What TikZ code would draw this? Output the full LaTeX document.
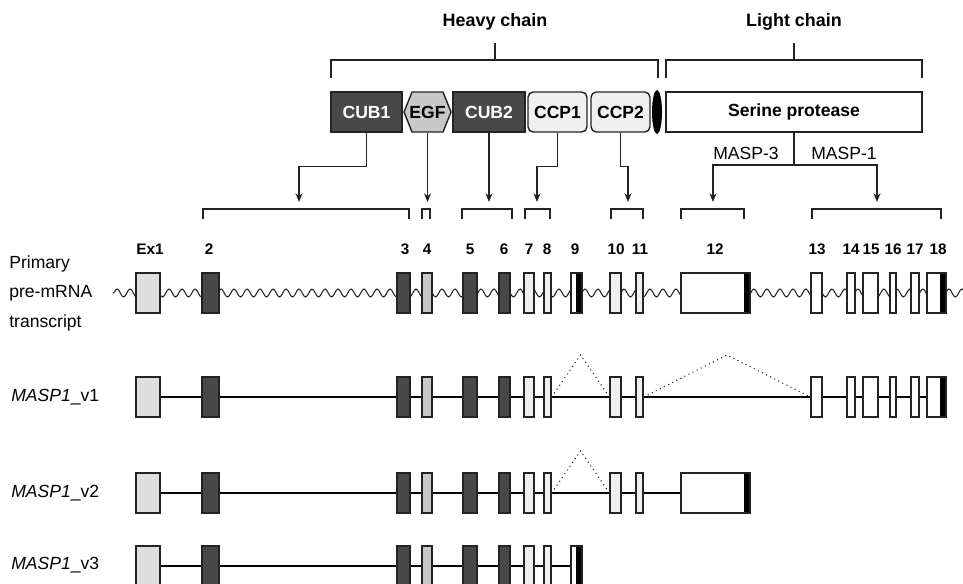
\documentclass[tikz,border=0pt]{standalone}
\usepackage{fontspec}
\setmainfont{Liberation Sans}
\usetikzlibrary{arrows.meta, calc, backgrounds, shapes.geometric, decorations.pathmorphing}
\definecolor{darkexon}{RGB}{72,72,72}
\definecolor{firstexon}{RGB}{221,221,221}
\definecolor{egfgray}{RGB}{200,200,200}
\definecolor{ccpgray}{RGB}{240,240,240}
\definecolor{edge}{RGB}{35,35,35}
\tikzset{
  dom/.style={draw=edge, line width=0.8pt, inner sep=0pt, minimum height=0.8cm,
              font=\fontsize{10}{12}\selectfont\bfseries},
  exon/.style={draw=edge, line width=0.7pt, inner sep=0pt, minimum height=0.8cm},
  stopexon/.style={fill=white, path picture={\fill[black]
      ([xshift=-0.12cm]path picture bounding box.north east) rectangle (path picture bounding box.south east);}},
  arrow/.style={-{Stealth[length=5pt, width=4pt]}, line width=0.7pt, edge},
  bracket/.style={line width=0.75pt, edge},
  intron/.style={line width=1.2pt, black},
  splice/.style={dotted, line width=0.6pt, edge},
  wave/.style={line width=0.6pt, edge, decorate,
               decoration={snake, segment length=0.26cm, amplitude=0.08cm}},
  chain/.style={font=\fontsize{10.2}{12}\selectfont\bfseries},
  num/.style={font=\fontsize{8.7}{10}\selectfont\bfseries},
  lbl/.style={font=\fontsize{10}{12}\selectfont, anchor=west, inner sep=0pt},
}
\begin{document}
\begin{tikzpicture}[x=0.02cm, y=-0.02cm]
  \useasboundingbox (0,0) rectangle (963,583);
  \clip (0,0) rectangle (963,583);

  \node[chain] (heavy) at (495,22) {Heavy chain};
  \node[chain] (light) at (794,22) {Light chain};
  \draw[bracket] (331,78) |- (658,60) -- (658,78);
  \draw[bracket] (495,43) -- (495,60);
  \draw[bracket] (666,78) |- (922,60) -- (922,78);
  \draw[bracket] (794,43) -- (794,60);

  \node[dom, fill=darkexon, text=white, minimum width=1.42cm] (cub1) at (366.5,112) {CUB1};
  \draw[line width=0.8pt, draw=edge, fill=egfgray]
      (404,112) -- (412,92) -- (443,92) -- (451,112) -- (443,132) -- (412,132) -- cycle;
  \node[dom, draw=none, minimum width=0.94cm] (egf) at (427.5,112) {EGF};
  \node[dom, fill=darkexon, text=white, minimum width=1.44cm] (cub2) at (489,112) {CUB2};
  \node[dom, fill=ccpgray, rounded corners=3pt, minimum width=1.18cm] (ccp1) at (557.5,112) {CCP1};
  \node[dom, fill=ccpgray, rounded corners=3pt, minimum width=1.18cm] (ccp2) at (620.5,112) {CCP2};
  \node[ellipse, fill=black, inner sep=0pt, minimum width=0.2cm, minimum height=0.88cm] (link) at (657,112) {};
  \node[dom, fill=white, minimum width=5.12cm] (sp) at (794,112) {Serine protease};

  \coordinate (t2) at (299,202);
  \coordinate (t4) at (427.5,202);
  \coordinate (t5) at (489,202);
  \coordinate (t7) at (537,202);
  \coordinate (t10) at (628,202);
  \coordinate (t12) at (713,202);
  \coordinate (t13) at (877,202);
  \coordinate (split) at (794,165);
  \draw[arrow] (cub1.south) -- ++(0,34) -| (t2);
  \draw[arrow] (egf.south) -- (t4);
  \draw[arrow] (cub2.south) -- (t5);
  \draw[arrow] (ccp1.south) -- ++(0,34) -| (t7);
  \draw[arrow] (ccp2.south) -- ++(0,34) -| (t10);
  \draw[line width=0.7pt, edge] (sp.south) -- (split);
  \draw[arrow] (split) -| (t12);
  \draw[arrow] (split) -| (t13);
  \node[font=\fontsize{10}{12}\selectfont] (masp3) at (746,153) {MASP-3};
  \node[font=\fontsize{10}{12}\selectfont] (masp1) at (844,153) {MASP-1};

  \foreach \a/\b in {203/409, 422/430, 462/512, 525/550, 611/643, 681/744, 812/941}
    \draw[bracket] (\a,219) |- (\b,209) -- (\b,219);

  \foreach \t/\x in {Ex1/150, 2/209, 3/405, 4/427, 5/470, 6/504, 7/529, 8/547, 9/575,
                     10/616, 11/640, 12/715, 13/817, 14/851, 15/871, 16/893, 17/915, 18/938}
    \node[num] (n\t) at (\x,249) {\t};

  \draw[wave] (113,293) -- (980,293);

  \foreach \r/\y in {p/293, va/397, vb/493, vc/566}
    \foreach \n/\a/\b/\c in {1/136/160/firstexon, 2/202/219/darkexon, 3/397/410/darkexon,
                             4/422/432/egfgray, 5/463/477/darkexon, 6/499/510/darkexon,
                             7/524/534/ccpgray, 8/544/551/ccpgray}
      \node[exon, fill=\c, minimum width={(\b-\a)*0.02cm}] (\r\n) at ({(\a+\b)/2},\y) {};
  \foreach \r/\y in {p/293, va/397, vb/493}
    \foreach \n/\a/\b in {10/610/621, 11/636/643}
      \node[exon, fill=ccpgray, minimum width={(\b-\a)*0.02cm}] (\r\n) at ({(\a+\b)/2},\y) {};
  \foreach \r/\y in {p/293, va/397} {
    \foreach \n/\a/\b in {13/811/822, 14/847/855, 15/863/878, 16/890/896, 17/911/919}
      \node[exon, fill=white, minimum width={(\b-\a)*0.02cm}] (\r\n) at ({(\a+\b)/2},\y) {};
    \node[exon, stopexon, minimum width=0.38cm] (\r18) at (936.5,\y) {};
  }
  \foreach \r/\y in {p/293, vc/566}
    \node[exon, stopexon, minimum width=0.22cm] (\r9) at (576.5,\y) {};
  \foreach \r/\y in {p/293, vb/493}
    \node[exon, stopexon, minimum width=1.38cm] (\r12) at (715.5,\y) {};

  \begin{scope}[on background layer]
    \draw[intron] (va1.east) -- (va18.west);
    \draw[intron] (vb1.east) -- (vb12.west);
    \draw[intron] (vc1.east) -- (vc9.west);
  \end{scope}
  \draw[splice] (va8.east) -- ($(va8.east)!0.5!(va10.west)+(0,-42)$) -- (va10.west);
  \draw[splice] (va11.east) -- ($(va11.east)!0.5!(va13.west)+(0,-42)$) -- (va13.west);
  \draw[splice] (vb8.east) -- ($(vb8.east)!0.5!(vb10.west)+(0,-42)$) -- (vb10.west);

  \node[lbl, align=left, font=\fontsize{10}{16.8}\selectfont] (prim) at (9,293) {Primary\\pre-mRNA\\transcript};
  \node[lbl] (lva) at (11,397) {\textit{MASP1}\_v1};
  \node[lbl] (lvb) at (11,493) {\textit{MASP1}\_v2};
  \node[lbl] (lvc) at (11,565) {\textit{MASP1}\_v3};
\end{tikzpicture}
\end{document}
